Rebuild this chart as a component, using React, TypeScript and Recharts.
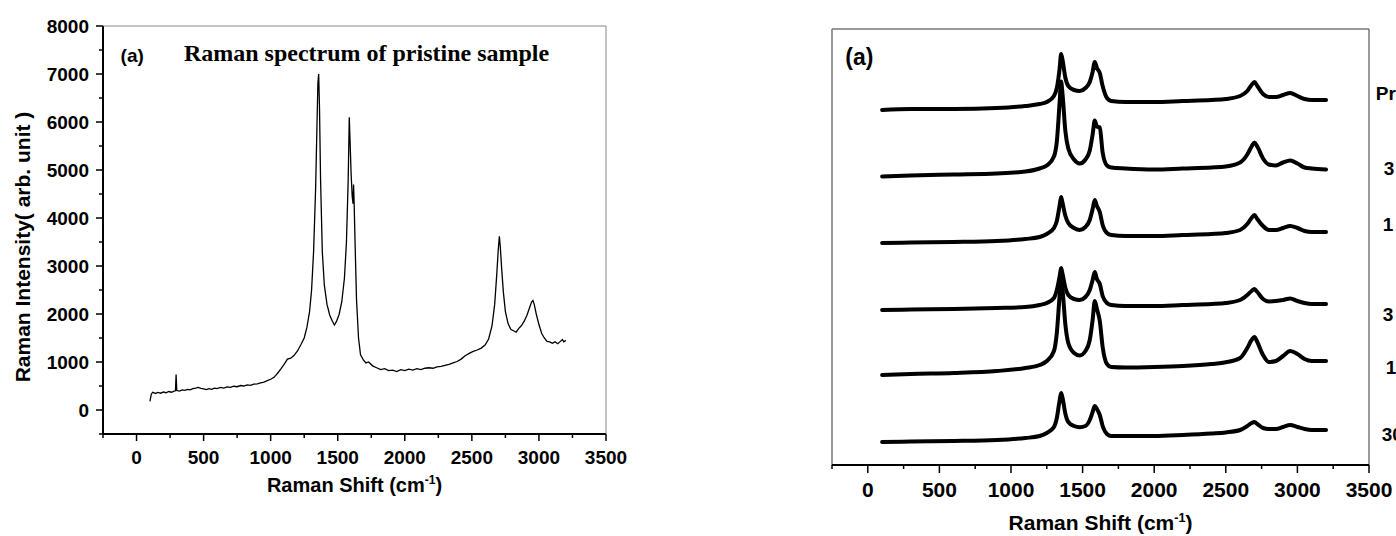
import { LineChart, Line, XAxis, YAxis, ReferenceLine, ReferenceDot } from "recharts";

// left panel: pristine spectrum (cm-1 vs arb. unit)
const pristineShift = [
  100, 110, 120, 140, 160, 180, 200, 220, 240, 260,
  280, 290, 295, 300, 320, 340, 360, 380, 400, 420,
  440, 460, 480, 500, 520, 540, 560, 580, 600, 625,
  650, 675, 700, 725, 750, 775, 800, 825, 850, 875,
  900, 925, 950, 975, 1000, 1025, 1050, 1075, 1100, 1125,
  1150, 1175, 1200, 1225, 1250, 1270, 1290, 1305, 1320, 1335,
  1345, 1352, 1358, 1364, 1372, 1385, 1400, 1420, 1440, 1460,
  1475, 1490, 1510, 1530, 1550, 1565, 1578, 1586, 1592, 1600,
  1608, 1614, 1618, 1622, 1630, 1640, 1655, 1670, 1690, 1710,
  1730, 1760, 1790, 1820, 1850, 1880, 1910, 1940, 1970, 2000,
  2030, 2060, 2090, 2120, 2150, 2180, 2210, 2240, 2270, 2300,
  2330, 2360, 2390, 2420, 2450, 2480, 2510, 2540, 2570, 2600,
  2625, 2650, 2670, 2685, 2697, 2705, 2712, 2722, 2735, 2750,
  2770, 2790, 2810, 2830, 2850, 2870, 2890, 2910, 2930, 2945,
  2955, 2965, 2980, 3000, 3020, 3040, 3060, 3080, 3100, 3120,
  3140, 3160, 3175, 3185, 3200,
];
const pristineIntensity = [
  180, 330, 370, 345, 365, 350, 375, 360, 385, 370,
  395, 400, 740, 405, 395, 420, 410, 430, 420, 445,
  455, 470, 450, 440, 425, 445, 430, 455, 445, 470,
  455, 480, 470, 495, 485, 510, 500, 525, 515, 540,
  545, 565, 580, 610, 640, 680, 760, 850, 950, 1060,
  1080, 1140, 1230, 1360, 1500, 1720, 2050, 2500, 3300, 4600,
  5900, 6800, 7000, 6300, 4800, 3300, 2600, 2200, 1980, 1850,
  1770, 1840, 1990, 2250, 2750, 3500, 4800, 6100, 5600, 4900,
  4450, 4300, 4700, 4350, 3400, 2300, 1500, 1150, 1050, 980,
  1000, 920, 880, 840, 860, 820, 830, 800, 840, 820,
  850, 830, 860, 840, 870, 880, 870, 900, 910, 930,
  950, 980, 1010, 1060, 1130, 1180, 1220, 1250, 1290, 1360,
  1480, 1750, 2200, 2800, 3350, 3620, 3400, 2950, 2450, 2050,
  1800, 1680, 1650, 1620, 1700, 1760, 1850, 1970, 2130, 2250,
  2280, 2200, 2000, 1780, 1600, 1500, 1430, 1420, 1390, 1420,
  1380, 1430, 1470, 1420, 1450,
];

// right panel: stacked spectra, intensity above each trace's own baseline
const stackShift = [
  100, 300, 600, 900, 1100, 1200, 1250, 1300, 1320, 1340, 1350,
  1360, 1380, 1400, 1440, 1480, 1520, 1550, 1570, 1585, 1600, 1620,
  1640, 1670, 1700, 1800, 2000, 2200, 2400, 2500, 2600, 2650, 2680,
  2700, 2720, 2760, 2800, 2850, 2900, 2950, 3000, 3050, 3100, 3200,
];
const tracePristine = [0, 1, 1, 2, 4, 6, 8, 14, 22, 42, 56, 50, 32, 24, 20, 19, 22, 28, 38, 48, 42, 37, 24, 12, 9, 8, 8, 9, 10, 11, 14, 19, 25, 28, 24, 16, 13, 13, 15, 17, 14, 11, 10, 10];
const traceB = [0, 1, 2, 3, 5, 8, 11, 20, 35, 75, 95, 82, 45, 28, 17, 13, 17, 26, 42, 56, 50, 49, 24, 11, 9, 8, 7, 8, 9, 10, 14, 22, 30, 34, 30, 18, 12, 11, 14, 16, 13, 9, 8, 7];
const traceC = [0, 0.5, 1, 2, 4, 6, 9, 15, 22, 38, 46, 40, 27, 20, 15, 13, 16, 23, 34, 43, 37, 31, 18, 10, 8, 7, 7, 8, 9, 10, 13, 19, 25, 28, 24, 17, 13, 13, 15, 17, 15, 12, 11, 11];
const traceD = [0, 0.5, 1, 2, 3, 5, 7, 12, 20, 34, 42, 36, 22, 15, 11, 10, 13, 20, 30, 38, 31, 26, 14, 7, 5, 4, 4, 5, 6, 7, 10, 15, 19, 21, 18, 11, 8.6, 9, 10, 11.6, 9, 7, 6, 6];
const traceE = [0, 1, 2, 4, 7, 10, 14, 24, 42, 80, 95, 85, 50, 32, 22, 19.5, 24, 35, 55, 74, 66, 54, 28, 11, 8, 7.5, 8, 9, 11, 12.7, 17, 27, 35, 38, 33, 20, 13, 14, 19, 24, 21, 16, 14, 14];
const traceF = [0, 0.5, 1, 2, 4, 6, 9, 15, 24, 42, 49, 44, 28, 20, 16, 14.7, 16, 22, 30, 36, 33, 27, 16, 8, 6, 6, 6, 7, 8.5, 9.6, 12, 16, 19, 20, 18, 14, 13, 13, 15, 17, 15, 13, 12, 12];
const stackTraces = [tracePristine, traceB, traceC, traceD, traceE, traceF];
const stackOffsets = [355, 288.5, 222, 155, 90, 23];
const sampleNames = ["Pristine", "3 min", "1 min", "3 s", "1 s", "30 min"];
const sampleLabelShift = [3547, 3603, 3596, 3596, 3617, 3589];
const sampleLabelLevel = [372, 297, 241, 151, 98, 31];

const shiftTicks = [-250, 0, 250, 500, 750, 1000, 1250, 1500, 1750, 2000, 2250, 2500, 2750, 3000, 3250, 3500];
const intensityTicks = [-500, 0, 500, 1000, 1500, 2000, 2500, 3000, 3500, 4000, 4500, 5000, 5500, 6000, 6500, 7000, 7500, 8000];

const pristineData = pristineShift.map((shift, i) => ({ shift, intensity: pristineIntensity[i] }));
const stackData = stackShift.map((shift, i) => {
  const row: Record<string, number> = { shift };
  stackTraces.forEach((t, k) => {
    row["s" + k] = stackOffsets[k] + t[i];
  });
  return row;
});

const sans = "'Liberation Sans', Arial, Helvetica, sans-serif";
const serif = "'Liberation Serif', 'Times New Roman', serif";

function makeXTick(fontSize: number, gap: number, majorLen: number, minorLen: number) {
  return function XTick(props: any) {
    const { x, y, payload } = props;
    const v = payload.value;
    const major = v % 500 === 0;
    return (
      <g>
        <line x1={x} x2={x} y1={y} y2={y + (major ? majorLen : minorLen)} stroke="#000" strokeWidth={1.5} />
        {major ? (
          <text x={x} y={y + gap} textAnchor="middle" fontFamily={sans} fontWeight="bold" fontSize={fontSize} fill="#000">
            {v}
          </text>
        ) : null}
      </g>
    );
  };
}

function LeftYTick(props: any) {
  const { x, y, payload } = props;
  const v = payload.value;
  const major = v % 1000 === 0;
  return (
    <g>
      <line x1={x} x2={x - (major ? 7 : 4)} y1={y} y2={y} stroke="#000" strokeWidth={1.5} />
      {major ? (
        <text x={x - 14} y={y} dy="0.36em" textAnchor="end" fontFamily={sans} fontWeight="bold" fontSize={19} fill="#000">
          {v}
        </text>
      ) : null}
    </g>
  );
}

function textAt(text: string, size: number, family: string, weight = "bold") {
  return (props: any) => {
    const vb = props.viewBox || {};
    const x = (vb.x ?? 0) + (vb.width ?? 0) / 2;
    const y = (vb.y ?? 0) + (vb.height ?? 0) / 2;
    return (
      <text x={x} y={y} dy="0.35em" textAnchor="start" fontFamily={family} fontWeight={weight} fontSize={size} fill="#000">
        {text}
      </text>
    );
  };
}

function shiftTitle(size: number, down: number) {
  return (props: any) => {
    const vb = props.viewBox;
    const cx = vb.x + vb.width / 2;
    return (
      <text x={cx} y={vb.y + down} textAnchor="middle" fontFamily={sans} fontWeight="bold" fontSize={size} fill="#000">
        Raman Shift (cm
        <tspan dy={-8} fontSize={size * 0.6}>-1</tspan>
        <tspan dy={8}>)</tspan>
      </text>
    );
  };
}

function intensityTitle(props: any) {
  const vb = props.viewBox;
  const cx = vb.x + 23;
  const cy = vb.y + vb.height / 2 + 17;
  return (
    <text x={cx} y={cy} dy="0.35em" transform={`rotate(-90 ${cx} ${cy})`} textAnchor="middle" fontFamily={sans} fontWeight="bold" fontSize={21} fill="#000">
      Raman Intensity( arb. unit )
    </text>
  );
}

const leftXTick = makeXTick(19, 30, 7, 4);
const rightXTick = makeXTick(21, 31.5, 8, 4);

export default function App() {
  return (
    <div style={{ position: "absolute", left: 0, top: 0, width: 1396, height: 536, overflow: "hidden", background: "#fff" }}>
      <div style={{ position: "absolute", left: 0, top: 0 }}>
        <LineChart width={640} height={536} data={pristineData} margin={{ top: 26, right: 34, left: 0, bottom: 42 }}>
          <XAxis
            dataKey="shift"
            type="number"
            domain={[-250, 3500]}
            ticks={shiftTicks}
            interval={0}
            tickSize={0}
            tickMargin={0}
            height={60}
            tick={leftXTick}
            axisLine={{ stroke: "#000", strokeWidth: 2 }}
            tickLine={false}
            label={shiftTitle(20, 58)}
          />
          <YAxis
            type="number"
            domain={[-500, 8000]}
            ticks={intensityTicks}
            interval={0}
            tickSize={0}
            tickMargin={0}
            width={103}
            tick={LeftYTick}
            axisLine={{ stroke: "#000", strokeWidth: 2 }}
            tickLine={false}
            label={intensityTitle}
          />
          <ReferenceLine y={8000} stroke="#888" strokeWidth={1} />
          <ReferenceLine x={3500} stroke="#888" strokeWidth={1} />
          <Line
            type="linear"
            dataKey="intensity"
            stroke="#000"
            strokeWidth={1.3}
            dot={false}
            activeDot={false}
            isAnimationActive={false}
          />
          <ReferenceDot x={-119} y={7381} r={0} label={textAt("(a)", 19, sans)} />
          <ReferenceDot x={353} y={7444} r={0} label={textAt("Raman spectrum of pristine sample", 24, serif)} />
        </LineChart>
      </div>

      <div style={{ position: "absolute", left: 708, top: 0 }}>
        <LineChart width={688} height={536} data={stackData} margin={{ top: 29, right: 27, left: 124, bottom: 21 }}>
          <XAxis
            dataKey="shift"
            type="number"
            domain={[-250, 3500]}
            ticks={shiftTicks}
            interval={0}
            tickSize={0}
            tickMargin={0}
            height={50}
            tick={rightXTick}
            axisLine={{ stroke: "#000", strokeWidth: 2 }}
            tickLine={false}
            label={shiftTitle(21, 64.5)}
          />
          <YAxis hide type="number" domain={[0, 436]} />
          <ReferenceLine y={436} stroke="#777" strokeWidth={1.5} />
          <ReferenceLine x={3500} stroke="#777" strokeWidth={1.5} />
          <ReferenceLine x={-250} stroke="#777" strokeWidth={1.5} />
          {stackTraces.map((_, k) => (
            <Line
              key={k}
              type="monotone"
              dataKey={"s" + k}
              stroke="#000"
              strokeWidth={4}
              strokeLinecap="round"
              strokeLinejoin="round"
              dot={false}
              activeDot={false}
              isAnimationActive={false}
            />
          ))}
          <ReferenceDot x={-157} y={408} r={0} label={textAt("(a)", 23, sans)} />
          {sampleNames.map((name, k) => (
            <ReferenceDot
              key={name}
              x={sampleLabelShift[k]}
              y={sampleLabelLevel[k]}
              r={0}
              ifOverflow="visible"
              label={textAt(name, 19, sans)}
            />
          ))}
        </LineChart>
      </div>
    </div>
  );
}
